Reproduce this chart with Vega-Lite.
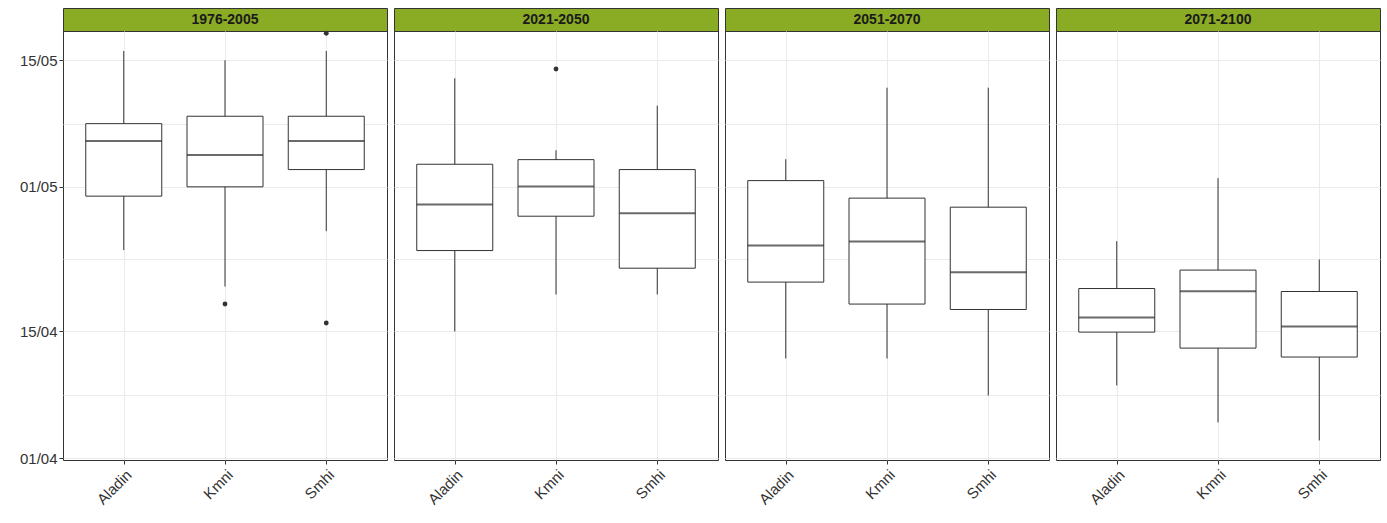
{
  "$schema": "https://vega.github.io/schema/vega-lite/v6.json",
  "background": "white",
  "padding": {"left": 4, "top": 7, "right": 5, "bottom": 5},
  "datasets": {
    "boxes": [
      {"period": "1976-2005", "model": "Aladin", "lower": 23.0, "q1": 28.97, "median": 35.08, "q3": 36.99, "upper": 45.03},
      {"period": "1976-2005", "model": "Kmni", "lower": 18.97, "q1": 30.0, "median": 33.53, "q3": 37.81, "upper": 44.0},
      {"period": "1976-2005", "model": "Smhi", "lower": 25.1, "q1": 31.91, "median": 35.08, "q3": 37.81, "upper": 45.03},
      {"period": "2021-2050", "model": "Aladin", "lower": 14.0, "q1": 22.95, "median": 28.04, "q3": 32.5, "upper": 42.01},
      {"period": "2021-2050", "model": "Kmni", "lower": 18.09, "q1": 26.75, "median": 30.03, "q3": 33.01, "upper": 34.05},
      {"period": "2021-2050", "model": "Smhi", "lower": 18.09, "q1": 21.0, "median": 27.09, "q3": 31.91, "upper": 38.98},
      {"period": "2051-2070", "model": "Aladin", "lower": 11.01, "q1": 19.46, "median": 23.5, "q3": 30.69, "upper": 33.06},
      {"period": "2051-2070", "model": "Kmni", "lower": 11.01, "q1": 17.03, "median": 23.95, "q3": 28.75, "upper": 40.97},
      {"period": "2051-2070", "model": "Smhi", "lower": 6.92, "q1": 16.43, "median": 20.56, "q3": 27.75, "upper": 40.97},
      {"period": "2071-2100", "model": "Aladin", "lower": 8.03, "q1": 13.93, "median": 15.54, "q3": 18.75, "upper": 23.99},
      {"period": "2071-2100", "model": "Kmni", "lower": 3.94, "q1": 12.16, "median": 18.46, "q3": 20.79, "upper": 30.96},
      {"period": "2071-2100", "model": "Smhi", "lower": 1.95, "q1": 11.17, "median": 14.55, "q3": 18.42, "upper": 21.96}
    ],
    "outliers": [
      {"period": "1976-2005", "model": "Kmni", "value": 17.03},
      {"period": "1976-2005", "model": "Smhi", "value": 46.99},
      {"period": "1976-2005", "model": "Smhi", "value": 14.93},
      {"period": "2021-2050", "model": "Kmni", "value": 43.04}
    ]
  },
  "spacing": 5,
  "hconcat": [
    {
      "vconcat": [
        {"data": {"values": [{"period": "1976-2005"}]}, "width": 324, "height": 23, "view": {"fill": "#8AAB24", "stroke": "#333333", "strokeWidth": 1},
         "mark": {"type": "text", "fontWeight": "bold", "fontSize": 14, "color": "#1a1a1a"}, "encoding": {"text": {"field": "period"}}},
        {"data": {"name": "boxes"}, "transform": [{"filter": "datum.period == '1976-2005'"}], "width": 324, "height": 429,
         "layer": [
          {"mark": {"type": "rule", "color": "#333333", "strokeWidth": 1},
           "encoding": {
             "x": {"field": "model", "type": "nominal", "title": null, "scale": {"type": "point", "padding": 0.6, "domain": ["Aladin", "Kmni", "Smhi"]}},
             "y": {"field": "lower", "type": "quantitative", "title": null, "scale": {"domain": [-0.22, 47.24], "nice": false, "zero": false},
                   "axis": {"values": [0, 7, 14, 22, 30, 37, 44], "labelExpr": "datum.value == 0 ? '01/04' : datum.value == 14 ? '15/04' : datum.value == 30 ? '01/05' : datum.value == 44 ? '15/05' : ''",
                            "tickOpacity": {"condition": {"test": "datum.value == 7 || datum.value == 22 || datum.value == 37", "value": 0}, "value": 1},
                            "minExtent": 58, "maxExtent": 58}},
             "y2": {"field": "upper"}}},
          {"mark": {"type": "bar", "fill": "white", "stroke": "#333333", "strokeWidth": 1, "size": 76},
           "encoding": {"x": {"field": "model", "type": "nominal"}, "y": {"field": "q1", "type": "quantitative"}, "y2": {"field": "q3"}}},
          {"mark": {"type": "tick", "color": "#2b2b2b", "thickness": 2, "size": 76},
           "encoding": {"x": {"field": "model", "type": "nominal"}, "y": {"field": "median", "type": "quantitative"}}},
          {"data": {"name": "outliers"}, "transform": [{"filter": "datum.period == '1976-2005'"}],
           "mark": {"type": "point", "filled": true, "color": "#333333", "size": 24, "opacity": 1},
           "encoding": {"x": {"field": "model", "type": "nominal"}, "y": {"field": "value", "type": "quantitative"}}}
         ]}
      ], "spacing": 0, "bounds": "flush"
    },
    {
      "vconcat": [
        {"data": {"values": [{"period": "2021-2050"}]}, "width": 324, "height": 23, "view": {"fill": "#8AAB24", "stroke": "#333333", "strokeWidth": 1},
         "mark": {"type": "text", "fontWeight": "bold", "fontSize": 14, "color": "#1a1a1a"}, "encoding": {"text": {"field": "period"}}},
        {"data": {"name": "boxes"}, "transform": [{"filter": "datum.period == '2021-2050'"}], "width": 324, "height": 429,
         "layer": [
          {"mark": {"type": "rule", "color": "#333333", "strokeWidth": 1},
           "encoding": {
             "x": {"field": "model", "type": "nominal", "title": null, "scale": {"type": "point", "padding": 0.6, "domain": ["Aladin", "Kmni", "Smhi"]}},
             "y": {"field": "lower", "type": "quantitative", "title": null, "scale": {"domain": [-0.22, 47.24], "nice": false, "zero": false},
                   "axis": {"values": [0, 7, 14, 22, 30, 37, 44], "labels": false, "ticks": false, "domain": false, "minExtent": 0, "maxExtent": 0}},
             "y2": {"field": "upper"}}},
          {"mark": {"type": "bar", "fill": "white", "stroke": "#333333", "strokeWidth": 1, "size": 76},
           "encoding": {"x": {"field": "model", "type": "nominal"}, "y": {"field": "q1", "type": "quantitative"}, "y2": {"field": "q3"}}},
          {"mark": {"type": "tick", "color": "#2b2b2b", "thickness": 2, "size": 76},
           "encoding": {"x": {"field": "model", "type": "nominal"}, "y": {"field": "median", "type": "quantitative"}}},
          {"data": {"name": "outliers"}, "transform": [{"filter": "datum.period == '2021-2050'"}],
           "mark": {"type": "point", "filled": true, "color": "#333333", "size": 24, "opacity": 1},
           "encoding": {"x": {"field": "model", "type": "nominal"}, "y": {"field": "value", "type": "quantitative"}}}
         ]}
      ], "spacing": 0, "bounds": "flush"
    },
    {
      "vconcat": [
        {"data": {"values": [{"period": "2051-2070"}]}, "width": 324, "height": 23, "view": {"fill": "#8AAB24", "stroke": "#333333", "strokeWidth": 1},
         "mark": {"type": "text", "fontWeight": "bold", "fontSize": 14, "color": "#1a1a1a"}, "encoding": {"text": {"field": "period"}}},
        {"data": {"name": "boxes"}, "transform": [{"filter": "datum.period == '2051-2070'"}], "width": 324, "height": 429,
         "layer": [
          {"mark": {"type": "rule", "color": "#333333", "strokeWidth": 1},
           "encoding": {
             "x": {"field": "model", "type": "nominal", "title": null, "scale": {"type": "point", "padding": 0.6, "domain": ["Aladin", "Kmni", "Smhi"]}},
             "y": {"field": "lower", "type": "quantitative", "title": null, "scale": {"domain": [-0.22, 47.24], "nice": false, "zero": false},
                   "axis": {"values": [0, 7, 14, 22, 30, 37, 44], "labels": false, "ticks": false, "domain": false, "minExtent": 0, "maxExtent": 0}},
             "y2": {"field": "upper"}}},
          {"mark": {"type": "bar", "fill": "white", "stroke": "#333333", "strokeWidth": 1, "size": 76},
           "encoding": {"x": {"field": "model", "type": "nominal"}, "y": {"field": "q1", "type": "quantitative"}, "y2": {"field": "q3"}}},
          {"mark": {"type": "tick", "color": "#2b2b2b", "thickness": 2, "size": 76},
           "encoding": {"x": {"field": "model", "type": "nominal"}, "y": {"field": "median", "type": "quantitative"}}}
         ]}
      ], "spacing": 0, "bounds": "flush"
    },
    {
      "vconcat": [
        {"data": {"values": [{"period": "2071-2100"}]}, "width": 324, "height": 23, "view": {"fill": "#8AAB24", "stroke": "#333333", "strokeWidth": 1},
         "mark": {"type": "text", "fontWeight": "bold", "fontSize": 14, "color": "#1a1a1a"}, "encoding": {"text": {"field": "period"}}},
        {"data": {"name": "boxes"}, "transform": [{"filter": "datum.period == '2071-2100'"}], "width": 324, "height": 429,
         "layer": [
          {"mark": {"type": "rule", "color": "#333333", "strokeWidth": 1},
           "encoding": {
             "x": {"field": "model", "type": "nominal", "title": null, "scale": {"type": "point", "padding": 0.6, "domain": ["Aladin", "Kmni", "Smhi"]}},
             "y": {"field": "lower", "type": "quantitative", "title": null, "scale": {"domain": [-0.22, 47.24], "nice": false, "zero": false},
                   "axis": {"values": [0, 7, 14, 22, 30, 37, 44], "labels": false, "ticks": false, "domain": false, "minExtent": 0, "maxExtent": 0}},
             "y2": {"field": "upper"}}},
          {"mark": {"type": "bar", "fill": "white", "stroke": "#333333", "strokeWidth": 1, "size": 76},
           "encoding": {"x": {"field": "model", "type": "nominal"}, "y": {"field": "q1", "type": "quantitative"}, "y2": {"field": "q3"}}},
          {"mark": {"type": "tick", "color": "#2b2b2b", "thickness": 2, "size": 76},
           "encoding": {"x": {"field": "model", "type": "nominal"}, "y": {"field": "median", "type": "quantitative"}}}
         ]}
      ], "spacing": 0, "bounds": "flush"
    }
  ],
  "config": {
    "font": "Liberation Sans",
    "view": {"stroke": "#333333", "strokeWidth": 1},
    "axis": {
      "gridColor": "#EBEBEB", "gridWidth": 1, "grid": true,
      "domain": false, "tickColor": "#333333", "tickSize": 4,
      "labelFont": "Liberation Sans", "labelFontSize": 15, "labelColor": "#333333", "labelPadding": 2, "labelOverlap": false
    },
    "axisX": {"labelAngle": -45, "labelAlign": "right", "labelBaseline": "top", "labelPadding": 3}
  }
}
